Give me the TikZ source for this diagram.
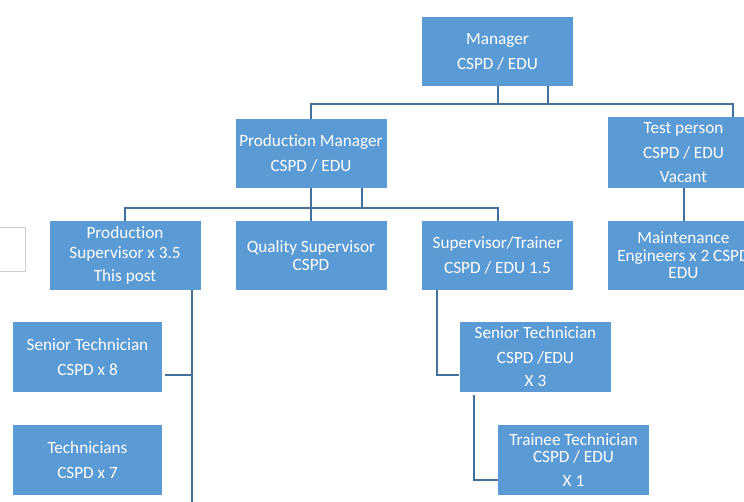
\documentclass[tikz,border=0pt]{standalone}
\usepackage{fontspec}
\setmainfont{Carlito}[Ligatures=NoCommon]
\definecolor{boxblue}{RGB}{91,155,213}
\definecolor{lineblue}{RGB}{65,113,156}
\definecolor{edgegray}{RGB}{205,205,205}
\begin{document}
\begin{tikzpicture}[x=1pt,y=-1pt,
    box/.style={fill=boxblue,text=white,inner sep=0pt,minimum width=151pt,minimum height=69pt,
                align=center,font=\fontsize{17.2}{17.5}\selectfont},
    link/.style={draw=lineblue,line width=2pt}]
    \useasboundingbox (0,0) rectangle (744,502);
    \fill[white] (0,0) rectangle (744,502);
    \clip (0,0) rectangle (744,502);

    % Cut-off frame at the left edge
    \draw[edgegray,line width=1pt] (0,228) -- (25,228) -- (25,272) -- (0,272);

    % Top level
    \node[box] (mgr) at (497.5,51.5) {Manager\\[7.5pt]CSPD / EDU};

    % Second level
    \node[box] (pm) at (311,153.5) {Production Manager\\[7.5pt]CSPD / EDU};
    \node[box,minimum height=71pt] (tp) at (683.5,152.5) {Test person\\[8pt]CSPD / EDU\\[6.5pt]Vacant};

    % Third level
    \node[box] (ps) at (125,255.5) {Production\\[2.5pt]Supervisor x 3.5\\[5.5pt]This post};
    \node[box] (qs) at (311,255.5) {Quality Supervisor\\CSPD};
    \node[box] (st) at (497.5,255.5) {Supervisor/Trainer\\[7.5pt]CSPD / EDU 1.5};
    \node[box] (me) at (683.5,255.5) {Maintenance\\Engineers x 2 CSPD\\EDU};

    % Technicians under the production supervisor
    \node[box,minimum width=149pt,minimum height=70pt] (stl) at (87.5,357) {Senior Technician\\[7.5pt]CSPD x 8};
    \node[box,minimum width=149pt,minimum height=70pt] (tech) at (87.5,460) {Technicians\\[7.5pt]CSPD x 7};

    % Technicians under the supervisor/trainer
    \node[box,minimum height=70pt] (str) at (535.5,357) {Senior Technician\\[7.5pt]CSPD /EDU\\[5.5pt]X 3};
    \node[box,minimum height=70pt] (tt) at (573.5,460) {Trainee Technician\\CSPD / EDU\\[6.5pt]X 1};

    % Connectors
    \draw[link] (mgr.south) -- ++(0,18);
    \draw[link] ([xshift=50.5pt]mgr.south) -- ++(0,18);
    \draw[link] (pm.north) -- ++(0,-15) -| ([xshift=49.5pt]tp.north);
    \draw[link] (pm.south) -- (qs.north);
    \draw[link] ([xshift=51pt]pm.south) -- ++(0,20);
    \draw[link] (ps.north) -- ++(0,-13) -| (st.north);
    \draw[link] (tp.south) -- (me.north);
    \draw[link] ([xshift=67pt]ps.south) coordinate (psdown) -- ++(0,215);
    \draw[link] ([xshift=3pt,yshift=-18pt]stl.east) coordinate (stlout) -- (stlout -| psdown);
    \draw[link] ([xshift=15pt]st.south west) |- ([xshift=-1pt,yshift=-18pt]str.west);
    \draw[link] ([xshift=14pt,yshift=-3pt]str.south west) |- ([yshift=-20pt]tt.west);
\end{tikzpicture}
\end{document}
